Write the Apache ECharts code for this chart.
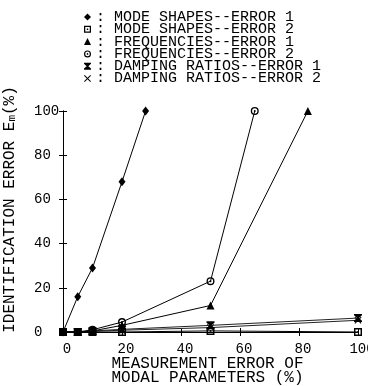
<!DOCTYPE html>
<html>
<head>
<meta charset="utf-8">
<script src="https://cdn.jsdelivr.net/npm/echarts@6/dist/echarts.min.js"></script>
<style>html,body{margin:0;padding:0;background:#fff}#c{width:368px;height:386px}</style>
</head>
<body>
<div id="c"></div>
<script>
// ---- data ----
var seriesNames = [
  'MODE SHAPES--ERROR 1',
  'MODE SHAPES--ERROR 2',
  'FREQUENCIES--ERROR 1',
  'FREQUENCIES--ERROR 2',
  'DAMPING RATIOS--ERROR 1',
  'DAMPING RATIOS--ERROR 2'
];
var modeShapes1X = [0, 5, 10, 20, 28];
var modeShapes1Y = [0, 16, 29, 68, 100];
var modeShapes2X = [0, 5, 10, 20, 50, 100];
var modeShapes2Y = [0, 0, 0, 0, 0.5, 0];
var freq1X = [0, 5, 10, 20, 50, 83];
var freq1Y = [0, 0, 0.5, 3, 12, 100];
var freq2X = [0, 5, 10, 20, 50, 65];
var freq2Y = [0, 0, 1, 4.5, 23, 100];
var damp1X = [0, 5, 10, 20, 50, 100];
var damp1Y = [0, 0, 0.5, 1.2, 3, 6.3];
var damp2X = [0, 5, 10, 20, 50, 100];
var damp2Y = [0, 0, 0.3, 0.8, 2, 5.3];
var xTicks = [0, 20, 40, 60, 80, 100];
var yTicks = [0, 20, 40, 60, 80, 100];

function pairs(xs, ys) { return xs.map(function (x, i) { return [x, ys[i]]; }); }

var SYM = {
  diamond: 'diamond',
  squareDot: 'path://M0,0 L10,0 L10,10 L0,10 Z M1.8,1.8 L1.8,8.2 L8.2,8.2 L8.2,1.8 Z M4,4 L6,4 L6,6 L4,6 Z',
  triangle: 'triangle',
  circleDot: 'path://M5,0 A5,5 0 1,1 5,10 A5,5 0 1,1 5,0 Z M5,1.7 A3.3,3.3 0 1,0 5,8.3 A3.3,3.3 0 1,0 5,1.7 Z M5,3.8 A1.2,1.2 0 1,1 5,6.2 A1.2,1.2 0 1,1 5,3.8 Z',
  hourglass: 'path://M0,0 L10,0 L10,1.6 L6.2,5 L10,8.4 L10,10 L0,10 L0,8.4 L3.8,5 L0,1.6 Z',
  cross: 'path://M0,1 L1,0 L5,4 L9,0 L10,1 L6,5 L10,9 L9,10 L5,6 L1,10 L0,9 L4,5 Z'
};
var symbols = [SYM.diamond, SYM.squareDot, SYM.triangle, SYM.circleDot, SYM.hourglass, SYM.cross];
var symSizes = [[7, 9], 8, 8, 8, 8, 7];
var datasets = [
  pairs(modeShapes1X, modeShapes1Y),
  pairs(modeShapes2X, modeShapes2Y),
  pairs(freq1X, freq1Y),
  pairs(freq2X, freq2Y),
  pairs(damp1X, damp1Y),
  pairs(damp2X, damp2Y)
];

var FONT = 'Liberation Mono';
var WEIGHT = 'normal';
var series = seriesNames.map(function (n, i) {
  return {
    name: n,
    type: 'line',
    data: datasets[i],
    symbol: symbols[i],
    symbolSize: symSizes[i],
    symbolKeepAspect: true,
    clip: false,
    lineStyle: { color: i >= 4 ? '#222' : '#000', width: 1 },
    itemStyle: { color: '#000', borderWidth: 0 },
    emphasis: { disabled: true },
    animation: false,
    z: 10 - i
  };
});

var legends = seriesNames.map(function (n, i) {
  return {
    orient: 'vertical',
    left: 84,
    top: 9.5 + 12.3 * i,
    padding: 0,
    itemGap: 0,
    itemWidth: 7,
    itemHeight: 7,
    selectedMode: false,
    data: [{ name: n, icon: symbols[i], itemStyle: { color: '#000' } }],
    formatter: function (name) { return ': ' + name; },
    textStyle: { fontFamily: FONT, fontSize: 15, fontWeight: WEIGHT, color: '#000' }
  };
});

var chart = echarts.init(document.getElementById('c'), null, { renderer: 'canvas' });
chart.setOption({
  backgroundColor: '#fff',
  animation: false,
  legend: legends,
  grid: { left: 63, right: 10, top: 111, bottom: 54, containLabel: false, outerBoundsMode: 'none' },
  xAxis: [{
    type: 'value', min: xTicks[0], max: xTicks[xTicks.length - 1], interval: 20,
    position: 'bottom',
    axisLine: { lineStyle: { color: '#000', width: 1 } },
    axisTick: { inside: true, length: 4, lineStyle: { color: '#000' } },
    splitLine: { show: false },
    axisLabel: { color: '#000', fontFamily: FONT, fontWeight: WEIGHT, fontSize: 14, margin: 10, padding: [0, 0, 0, 8] },
    name: 'MEASUREMENT ERROR OF\nMODAL PARAMETERS (%)',
    nameLocation: 'middle',
    nameGap: 25,
    nameMoveOverlap: false,
    nameTextStyle: { color: '#000', fontFamily: FONT, fontWeight: WEIGHT, fontSize: 16, lineHeight: 14, padding: [0, 6, 0, 0] }
  }, {
    type: 'value', min: xTicks[0], max: xTicks[xTicks.length - 1], interval: 20,
    position: 'top',
    axisLine: { lineStyle: { color: '#000', width: 1 } },
    axisTick: { inside: true, length: 4, lineStyle: { color: '#000' } },
    splitLine: { show: false },
    axisLabel: { show: false }
  }],
  yAxis: [{
    type: 'value', min: yTicks[0], max: yTicks[yTicks.length - 1], interval: 20,
    position: 'left',
    axisLine: { show: true, lineStyle: { color: '#000', width: 1 } },
    axisTick: { show: true, inside: true, length: 4, lineStyle: { color: '#000' } },
    splitLine: { show: false },
    axisLabel: { color: '#000', fontFamily: FONT, fontWeight: WEIGHT, fontSize: 14, align: 'left', margin: 29 },
    name: 'IDENTIFICATION ERROR E{m|m}(%)',
    nameLocation: 'middle',
    nameGap: 45,
    nameMoveOverlap: false,
    nameTextStyle: {
      color: '#000', fontFamily: FONT, fontWeight: WEIGHT, fontSize: 16, padding: [0, 0, 0, 24],
      rich: { m: { fontFamily: FONT, fontWeight: WEIGHT, fontSize: 11, color: '#000', padding: [5, 0, 0, 0] } }
    }
  }, {
    type: 'value', min: yTicks[0], max: yTicks[yTicks.length - 1], interval: 20,
    position: 'right',
    axisLine: { show: true, lineStyle: { color: '#000', width: 1 } },
    axisTick: { show: true, inside: true, length: 4, lineStyle: { color: '#000' } },
    splitLine: { show: false },
    axisLabel: { show: false }
  }],
  series: series
});
</script>
</body>
</html>
